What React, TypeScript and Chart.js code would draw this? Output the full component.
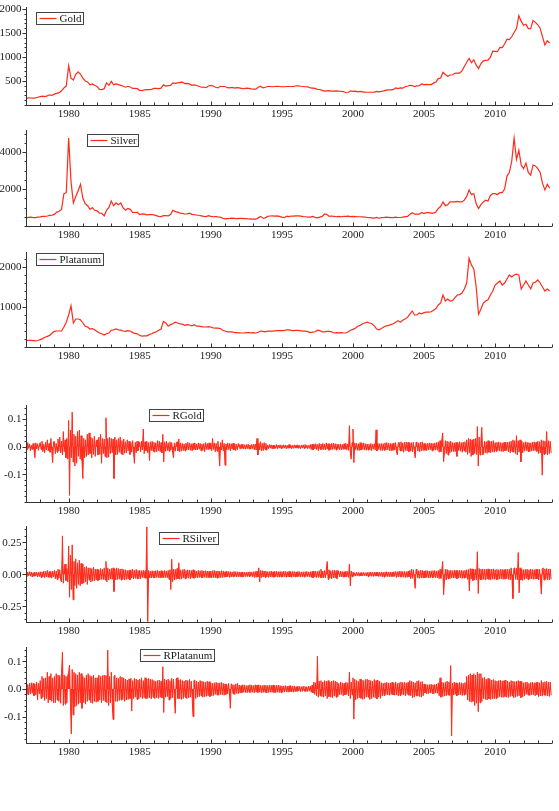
import React, { useEffect, useRef } from 'react';
import { Chart, registerables } from 'chart.js';
Chart.register(...registerables);

// ---------- data ----------
const START_YEAR = 1977;
const PRICE_PER_YEAR = 6; // bi-monthly observations
const RET_PER_YEAR = 16;

const gold = [
  132,148,146,143,150,162, 173,184,176,190,212,200, 227,242,256,296,355,395,
  820,560,520,640,690,640, 560,500,480,420,440,410, 385,325,320,340,460,410,
  490,420,440,425,410,390, 370,390,375,345,345,340, 305,300,315,320,320,325,
  345,345,340,350,420,395, 405,410,460,450,460,470, 475,445,450,440,410,420,
  405,390,370,375,360,395, 410,395,370,355,390,385, 385,360,357,365,350,360,
  355,345,338,350,345,335, 330,330,370,390,355,370, 385,385,380,385,390,385,
  380,380,385,385,385,385, 400,400,390,385,380,378, 355,350,345,325,323,305,
  290,295,300,290,290,295, 288,285,280,255,260,295, 285,290,275,282,275,267,
  265,265,265,268,285,275, 282,295,310,315,315,320, 355,340,355,350,380,390,
  410,405,385,400,405,440, 425,430,425,425,455,480, 550,560,680,635,600,625,
  630,660,665,665,710,800, 890,970,880,940,830,760, 860,920,930,935,995,1120,
  1115,1110,1200,1195,1270,1370, 1360,1420,1510,1590,1860,1740,
  1660,1680,1590,1590,1760,1720, 1670,1600,1420,1250,1340,1290,
];

const silver = [
  435,470,475,450,455,475, 490,520,520,540,570,590, 630,750,800,900,1750,1800,
  4750,2400,1250,1600,1900,2250, 1500,1200,1100,900,1000,850, 820,700,690,550,850,1000,
  1350,1100,1250,1150,1250,980, 850,950,900,730,730,740, 620,650,640,600,620,620,
  600,560,520,510,560,560, 550,620,850,780,750,700, 680,650,660,690,630,620,
  580,580,550,520,510,560, 520,500,510,490,480,420, 390,400,410,430,410,400,
  410,410,400,400,380,375, 370,370,440,520,420,440, 520,540,550,530,550,520,
  480,450,530,510,540,530, 550,550,530,510,500,480, 480,520,470,440,480,520,
  650,620,520,540,520,500, 520,500,520,520,530,510, 520,510,500,500,490,480,
  460,450,440,430,460,420, 450,460,480,470,450,450, 480,460,460,480,510,520,
  620,720,640,650,640,730, 670,720,720,700,700,760, 950,1050,1300,1100,1150,1300,
  1300,1300,1330,1300,1300,1400, 1600,1950,1700,1750,1200,950, 1150,1300,1400,1350,1650,1750,
  1750,1700,1800,1800,2000,2700, 2900,3500,4750,3600,4100,3300,
  3100,3400,2900,2750,3300,3250, 3100,2900,2300,1950,2250,2050,
];

const platanum = [
  160,165,165,160,155,162, 185,210,245,265,290,350, 390,400,400,400,500,620,
  800,1030,600,700,700,680, 600,520,500,450,460,430, 390,350,330,300,330,350,
  420,430,450,430,420,400, 390,410,400,360,340,330, 290,270,280,280,310,330,
  360,380,420,450,640,600, 520,560,580,620,600,580, 570,540,560,550,530,560,
  520,520,510,500,500,510, 500,480,470,470,460,420, 400,380,380,380,360,360,
  355,350,350,360,360,355, 360,350,370,400,390,380, 395,395,395,405,410,410,
  410,410,430,430,415,410, 415,415,405,395,395,385, 360,370,380,420,410,380,
  380,390,390,380,350,360, 355,360,350,350,380,420, 440,470,520,540,580,600,
  620,600,580,530,450,430, 460,500,530,540,560,580, 620,660,620,670,700,740,
  820,900,800,800,850,830, 860,870,870,880,920,960, 1050,1100,1300,1150,1200,1150,
  1160,1230,1300,1310,1350,1450, 1600,2220,2050,1950,1500,820, 950,1100,1150,1180,1300,1400,
  1550,1600,1650,1550,1600,1700, 1800,1750,1800,1820,1800,1450,
  1550,1650,1550,1450,1600,1620, 1680,1600,1500,1400,1450,1400,
];

// returns, in thousandths, 16 per year from 1977
const rGold = [
  8,-12,15,-6,10,-14,5,-11,12,-9,-40,14,-8,11,-13,7,
  15,-10,20,-18,9,-22,16,-12,25,-15,12,-20,30,-14,-58,18,
  18,-25,12,-20,28,-15,35,-22,20,-30,55,-18,25,-40,30,-45,
  95,-176,60,-40,125,-55,45,-70,38,-60,55,-35,60,-45,40,-50,
  -115,30,-40,25,-35,45,-30,50,-25,35,-40,30,-28,38,-35,22,
  25,-30,35,-28,45,-60,30,-25,28,-35,105,-40,30,-38,35,-25,
  30,-22,28,-115,35,-30,25,-28,30,-20,35,-26,22,-30,28,-24,
  18,-22,25,-15,20,-28,15,-20,22,-18,-60,16,-22,20,-15,18,
  15,-18,20,-12,64,-25,18,-15,20,-22,15,-50,18,-14,20,-16,
  16,-20,14,-18,22,-15,20,-18,15,-22,45,-55,18,-16,20,-14,
  14,-16,18,-12,15,-20,-40,14,-16,12,18,-15,28,-18,14,-16,
  12,-14,10,-15,13,-11,16,-12,14,-13,11,-15,12,-10,14,-12,
  10,-12,14,-9,12,-15,10,-13,11,-18,15,-10,12,-11,14,-9,
  12,-15,30,-10,14,-18,12,-16,20,-14,-70,15,-12,25,-15,12,
  -67,10,-12,14,-10,12,-15,11,-9,13,-12,10,-14,9,-11,12,
  7,-9,8,-6,10,-8,7,-9,8,-7,9,-8,6,-9,8,-7,
  9,-11,10,-12,30,-30,14,-12,18,-15,12,-14,15,-10,12,-13,
  6,-7,8,-5,7,-8,6,-7,5,-6,8,-7,6,-5,7,-6,
  5,-6,7,-5,6,-7,5,-6,8,-5,6,-7,5,-6,7,-5,
  6,-5,7,-6,5,-7,6,-5,7,-6,8,-5,6,-7,5,-6,
  8,-10,9,-12,10,-8,11,-10,9,-14,12,-9,10,-11,12,-10,
  10,-12,14,-9,11,-13,10,-11,12,-10,13,-9,11,-12,10,-9,
  9,-11,10,-12,8,-10,11,-9,12,-11,10,-13,76,-20,-45,15,
  64,-58,14,-10,12,-13,11,-14,15,-12,13,-10,14,-12,11,-13,
  10,-12,9,-11,12,-14,10,-9,11,-12,61,-15,12,-10,11,-13,
  12,-14,11,-13,14,-12,15,-11,13,-14,12,-15,11,-13,14,-12,
  15,-18,-30,14,16,-15,18,-16,14,-20,16,-14,17,-15,16,-18,
  14,-16,15,-18,16,-14,-40,17,15,-16,14,-18,16,-15,18,-14,
  12,-13,11,-14,13,-12,14,-11,13,-15,12,-13,14,-12,15,-13,
  18,-20,22,-18,25,50,-54,-20,22,-25,20,-30,18,-22,20,-18,
  15,-17,14,-18,16,-35,15,-14,18,-16,15,-20,17,-15,18,-20,
  25,-28,30,-22,28,-35,25,-30,28,-25,30,-28,73,-70,35,-30,
  22,70,-30,-25,20,-22,18,-24,22,-20,19,-22,20,-18,22,-20,
  15,-17,16,-14,18,-16,15,-17,14,-18,16,-15,17,-14,16,-18,
  18,-22,20,-18,25,-20,22,-25,40,-30,22,-20,25,-55,20,-22,
  15,-16,18,-14,16,-17,15,-18,14,-16,17,-15,18,-14,16,-17,
  20,-25,18,-22,25,-103,22,-28,20,-25,55,-30,22,-25,20,-22,
];

const rSilver = [
  14,-18,16,-12,20,-15,18,-22,12,-16,18,-14,16,-20,15,-18,
  20,-25,18,-22,25,-28,22,-20,30,-25,20,-24,22,-30,25,-20,
  30,-35,25,-40,40,-30,35,-45,-60,300,-70,55,80,-50,45,-60,
  220,-180,150,-120,230,-200,100,-90,120,-110,90,-80,110,-90,85,-75,
  80,-70,55,-60,60,-80,50,-45,50,-60,45,-55,55,-50,40,-45,
  40,-50,35,-45,45,-40,38,-42,50,-45,100,-60,50,-45,40,-38,
  45,-40,50,-135,40,-45,50,-40,45,-38,40,-45,42,-40,38,-45,
  35,-40,30,-38,32,-45,35,-30,40,-35,30,-32,38,-35,30,-34,
  30,-35,28,-25,32,-30,28,-32,370,-370,30,-28,25,-30,28,-26,
  25,-30,28,-25,30,-28,25,-30,28,-26,24,-28,30,-25,26,-28,
  30,-40,35,-120,117,-60,40,-45,38,-40,45,-35,90,-40,35,-38,
  35,-30,40,-35,30,-32,35,-30,32,-35,30,-28,35,-32,30,-28,
  25,-28,30,-25,28,-25,30,-28,26,-24,28,-26,25,-28,24,-26,
  25,-30,28,-25,30,-28,25,-30,26,-28,24,-26,28,-25,26,-24,
  20,-22,25,-20,22,-25,20,-22,18,-20,22,-18,20,-22,19,-20,
  18,-20,16,-22,18,-20,17,-18,16,-19,18,-17,20,-16,18,-19,
  20,-25,22,-24,25,-22,50,-60,30,-25,28,-22,26,-24,25,-22,
  20,-25,22,-20,25,-22,20,-24,22,-20,24,-22,20,-23,22,-21,
  20,-22,25,-20,22,-24,20,-22,23,-21,20,-24,22,-20,21,-23,
  18,-20,22,-18,20,-22,18,-20,19,-21,20,-18,22,-19,18,-20,
  20,-25,22,-28,25,-22,24,-26,22,-25,28,-24,40,-30,25,-28,
  30,-28,35,100,-40,35,-30,28,-35,30,-28,32,-30,28,-34,30,
  20,-22,25,-20,22,-24,20,-22,24,-20,22,-25,80,-90,25,-20,
  18,-15,12,-14,15,-12,14,-15,12,-13,14,-12,15,-13,12,-14,
  15,-18,16,-14,18,-16,15,-17,16,-15,17,-14,16,-18,15,-16,
  18,-20,16,-22,18,-17,20,-18,17,-19,18,-20,16,-18,19,-17,
  22,-25,20,-22,25,-20,24,-22,21,-23,22,-25,20,-24,23,-21,
  30,-35,40,-32,35,-30,-110,38,35,-30,28,-32,30,-28,32,-30,
  25,-28,30,-25,28,-30,25,-28,27,-26,28,-25,30,-27,26,-28,
  30,-35,38,-32,35,100,-160,-45,40,-45,38,-35,30,-35,32,-30,
  28,-30,32,-28,30,-35,28,-30,32,-29,30,-33,28,-30,31,-28,
  35,-40,38,-130,45,-38,42,-50,40,-45,38,-42,176,-150,45,-40,
  40,-45,42,-40,38,-45,40,-38,42,-40,38,-44,40,-38,42,-40,
  35,-40,38,-42,35,-38,40,-36,38,-40,36,-38,40,-35,38,-40,
  40,-45,50,-42,-190,45,50,-40,48,-45,170,-145,50,-45,40,-48,
  35,-40,38,-35,40,-42,35,-38,40,-36,38,-40,35,-38,40,-36,
  38,-45,40,-42,-155,40,50,-45,42,-40,45,-42,40,-45,42,-40,
];

const rPlatanum = [
  18,-20,15,-22,20,-18,22,-16,20,-25,18,-22,25,-40,20,-18,
  30,-35,45,-30,38,-42,40,-35,60,-50,45,-40,55,-45,40,-50,
  45,-50,55,-40,50,-45,48,-52,55,133,-60,50,-55,45,-50,48,
  60,86,-50,-162,70,-94,60,-65,55,-60,50,-55,60,-50,55,-70,
  45,-50,40,-55,50,-45,55,-40,48,-50,45,-52,50,-45,40,-48,
  40,-45,50,-40,45,-50,48,-42,50,-45,48,-50,140,-60,45,-50,
  60,-50,-110,45,50,-45,40,-45,38,-42,45,-40,42,-38,40,-45,
  35,-40,32,-38,36,-35,38,-80,30,-35,38,-30,35,-38,32,-36,
  35,-30,40,-35,30,-32,40,-35,36,-34,38,-32,35,-36,34,-30,
  30,-35,28,-32,30,-34,32,-30,28,-32,80,-85,35,-30,32,-28,
  35,-40,30,-35,38,-32,35,-30,-88,35,40,-35,32,-36,34,-38,
  30,-35,28,-30,32,-35,30,-32,34,-30,28,-32,-100,30,32,-35,
  28,-30,25,-28,30,-25,28,-30,26,-28,24,-27,28,-25,26,-28,
  22,-25,20,-24,22,-20,24,-22,21,-23,22,-20,24,-22,20,-23,
  18,-20,16,-18,20,-15,-70,18,16,-18,15,-20,18,-16,20,-18,
  14,-15,12,-14,15,-12,14,-13,12,-14,13,-12,15,-13,14,-12,
  12,-14,15,-12,14,-13,15,-12,13,-14,12,-13,14,-12,13,-15,
  12,-13,14,-12,13,-12,14,-13,12,-14,13,-12,14,-13,12,-14,
  10,-12,11,-10,12,-11,10,-12,11,-10,12,-11,10,-12,11,-10,
  8,-9,10,-8,9,-10,8,-9,10,-8,9,-10,8,-9,10,-8,
  10,-12,14,-15,25,-20,22,-25,118,-30,28,-25,30,-28,25,-30,
  30,-25,28,-35,30,-28,25,-30,28,-32,30,-26,28,-30,25,-28,
  20,-22,25,-20,22,-25,20,-22,24,-20,22,-25,60,-35,25,-22,
  40,-109,35,-40,30,-35,28,-32,36,-34,32,-38,30,-35,34,-30,
  35,-30,32,-38,30,-35,28,-30,34,-32,30,-36,32,-30,28,-34,
  22,-25,20,-24,22,-20,24,-22,21,-23,22,-20,24,-22,20,-23,
  25,-22,20,-25,22,-24,25,-20,23,-22,24,-25,22,-20,24,-23,
  30,-25,28,-32,25,-30,22,-25,28,-26,30,-28,25,-30,27,-25,
  18,-15,16,-18,15,-17,16,-15,17,-16,15,-18,16,-15,17,-16,
  22,-25,40,-30,25,-28,22,-26,24,-25,28,-22,25,-24,84,-169,
  20,-22,25,-20,22,-25,20,-22,24,-21,22,-24,20,-22,23,-20,
  45,-40,50,-45,55,-48,50,-45,55,-60,50,-52,60,-82,55,-50,
  55,-45,40,-35,42,-38,35,-40,38,-36,35,-38,32,-35,34,-36,
  30,-35,28,-32,30,-28,32,-30,29,-31,30,-28,32,-30,28,-31,
  25,-28,30,-25,28,-32,26,-30,28,-27,30,-25,28,-32,26,-29,
  22,-25,24,-20,25,-22,20,-24,23,-22,24,-21,22,-25,23,-21,
  25,-28,22,-25,30,-26,24,-22,26,-24,28,-25,24,-27,25,-23,
];

const yearLabels = [1980, 1985, 1990, 1995, 2000, 2005, 2010];
const goldTicks = [500, 1000, 1500, 2000];
const silverTicks = [2000, 4000];
const platTicks = [1000, 2000];
const rGoldTicks = [-0.1, 0, 0.1];
const rGoldTickLabels = ['-0.1', '0.0', '0.1'];
const rSilverTicks = [-0.25, 0, 0.25];
const rSilverTickLabels = ['-0.25', '0.00', '0.25'];
const rPlatTicks = [-0.1, 0, 0.1];
const rPlatTickLabels = ['-0.1', '0.0', '0.1'];

// ---------- styling / layout ----------
const W = 559;
const LINE = '#ff2a1a';
const AXIS = '#333333';
const TEXT = '#1a1a1a';
const FONT = '11px "Liberation Serif", "Times New Roman", serif';
const X_MIN = 1977;
const X_MAX = 2014;

type Panel = {
  name: string;
  values: number[];
  perYear: number;
  scale: number;
  lineWidth: number;
  fillBand: boolean;
  yMin: number;
  yMax: number;
  ticks: number[];
  tickLabels: string[];
  minor: number;
  top: number;
  bottom: number;
  legendX: number;
  legendY: number;
};

const panels: Panel[] = [
  { name: 'Gold', values: gold, perYear: PRICE_PER_YEAR, scale: 1, lineWidth: 1.2, fillBand: false, yMin: 0, yMax: 2040, ticks: goldTicks, tickLabels: goldTicks.map(String), minor: 100, top: 7, bottom: 105, legendX: 36, legendY: 12 },
  { name: 'Silver', values: silver, perYear: PRICE_PER_YEAR, scale: 1, lineWidth: 1.2, fillBand: false, yMin: 0, yMax: 5190, ticks: silverTicks, tickLabels: silverTicks.map(String), minor: 500, top: 130, bottom: 226, legendX: 87, legendY: 134 },
  { name: 'Platanum', values: platanum, perYear: PRICE_PER_YEAR, scale: 1, lineWidth: 1.2, fillBand: false, yMin: 0, yMax: 2375, ticks: platTicks, tickLabels: platTicks.map(String), minor: 200, top: 252, bottom: 347, legendX: 36, legendY: 253 },
  { name: 'RGold', values: rGold, perYear: RET_PER_YEAR, scale: 1000, lineWidth: 1, fillBand: true, yMin: -0.2, yMax: 0.151, ticks: rGoldTicks, tickLabels: rGoldTickLabels, minor: 0.02, top: 405, bottom: 502, legendX: 149, legendY: 409 },
  { name: 'RSilver', values: rSilver, perYear: RET_PER_YEAR, scale: 1000, lineWidth: 1, fillBand: true, yMin: -0.373, yMax: 0.377, ticks: rSilverTicks, tickLabels: rSilverTickLabels, minor: 0.05, top: 526, bottom: 622, legendX: 159, legendY: 532 },
  { name: 'RPlatanum', values: rPlatanum, perYear: RET_PER_YEAR, scale: 1000, lineWidth: 1, fillBand: true, yMin: -0.195, yMax: 0.151, ticks: rPlatTicks, tickLabels: rPlatTickLabels, minor: 0.02, top: 647, bottom: 743, legendX: 140, legendY: 649 },
];

const PAD_TOP = 8;
const PAD_BOTTOM = 24;
const PAD_LEFT = 26;
const PAD_RIGHT = 7;

function makeAxesPlugin(p: Panel) {
  return {
    id: 'oxAxes' + p.name,
    afterDraw(chart: any) {
      const { ctx, chartArea: a, scales } = chart;
      const x = scales.x;
      const y = scales.y;
      ctx.save();
      ctx.strokeStyle = AXIS;
      ctx.lineWidth = 1;
      const L = Math.round(a.left) + 0.5;
      const B = Math.round(a.bottom) + 0.5;
      ctx.beginPath();
      ctx.moveTo(L, Math.round(a.top));
      ctx.lineTo(L, B);
      ctx.lineTo(Math.round(a.right), B);
      for (let yr = X_MIN; yr <= X_MAX; yr++) {
        const px = Math.round(x.getPixelForValue(yr)) + 0.5;
        const len = yr % 5 === 0 ? 4 : 3;
        ctx.moveTo(px, B);
        ctx.lineTo(px, B - len);
      }
      const n0 = Math.ceil(p.yMin / p.minor - 1e-9);
      const n1 = Math.floor(p.yMax / p.minor + 1e-9);
      for (let n = n0; n <= n1; n++) {
        const py = Math.round(y.getPixelForValue(n * p.minor)) + 0.5;
        ctx.moveTo(L, py);
        ctx.lineTo(L - 2, py);
      }
      p.ticks.forEach((t) => {
        const py = Math.round(y.getPixelForValue(t)) + 0.5;
        ctx.moveTo(L, py);
        ctx.lineTo(L - 4, py);
      });
      ctx.stroke();

      ctx.fillStyle = TEXT;
      ctx.font = FONT;
      ctx.textAlign = 'right';
      ctx.textBaseline = 'middle';
      p.ticks.forEach((t, i) => {
        ctx.fillText(p.tickLabels[i], L - 5, y.getPixelForValue(t) + 0.5);
      });
      ctx.textAlign = 'center';
      yearLabels.forEach((yr) => {
        ctx.fillText(String(yr), x.getPixelForValue(yr), B + 9);
      });

      // legend box
      const tw = ctx.measureText(p.name).width;
      const lx = p.legendX + 0.5;
      const ly = p.legendY - (p.top - PAD_TOP) + 0.5;
      const boxW = Math.round(23 + tw + 2);
      const boxH = 12;
      ctx.fillStyle = '#ffffff';
      ctx.fillRect(lx, ly, boxW, boxH);
      ctx.lineWidth = 1;
      ctx.strokeStyle = '#444444';
      ctx.strokeRect(lx, ly, boxW, boxH);
      ctx.beginPath();
      ctx.strokeStyle = LINE;
      ctx.lineWidth = 1.2;
      ctx.moveTo(lx + 3, ly + boxH / 2);
      ctx.lineTo(lx + 20, ly + boxH / 2);
      ctx.stroke();
      ctx.fillStyle = TEXT;
      ctx.textAlign = 'left';
      ctx.fillText(p.name, lx + 23, ly + boxH / 2 + 0.5);
      ctx.restore();
    },
  };
}

function PanelChart({ p }: { p: Panel }) {
  const ref = useRef<HTMLCanvasElement | null>(null);
  const canvasTop = p.top - PAD_TOP;
  const canvasH = p.bottom - p.top + PAD_TOP + PAD_BOTTOM;
  useEffect(() => {
    if (!ref.current) return;
    const pts = p.values.map((v, i) => ({ x: START_YEAR + i / p.perYear, y: v / p.scale }));
    const chart = new Chart(ref.current, {
      type: 'line',
      data: {
        datasets: [
          {
            label: p.name,
            data: pts,
            borderColor: LINE,
            backgroundColor: LINE,
            borderWidth: p.lineWidth,
            pointRadius: 0,
            tension: 0,
            fill: p.fillBand ? 'origin' : false,
          },
        ],
      },
      options: {
        responsive: false,
        animation: false,
        events: [],
        layout: { padding: { top: PAD_TOP, bottom: PAD_BOTTOM, left: PAD_LEFT, right: PAD_RIGHT } },
        plugins: { legend: { display: false }, tooltip: { enabled: false }, title: { display: false } },
        scales: {
          x: { type: 'linear', min: X_MIN, max: X_MAX, display: false },
          y: { type: 'linear', min: p.yMin, max: p.yMax, display: false },
        },
      },
      plugins: [makeAxesPlugin(p)],
    } as any);
    return () => chart.destroy();
  }, [p]);
  return (
    <canvas
      ref={ref}
      width={W}
      height={canvasH}
      style={{ position: 'absolute', left: 0, top: canvasTop, width: W, height: canvasH }}
    />
  );
}

export default function App() {
  return (
    <div style={{ position: 'absolute', left: 0, top: 0, width: W, height: 811, background: '#ffffff' }}>
      {panels.map((p) => (
        <PanelChart key={p.name} p={p} />
      ))}
    </div>
  );
}
